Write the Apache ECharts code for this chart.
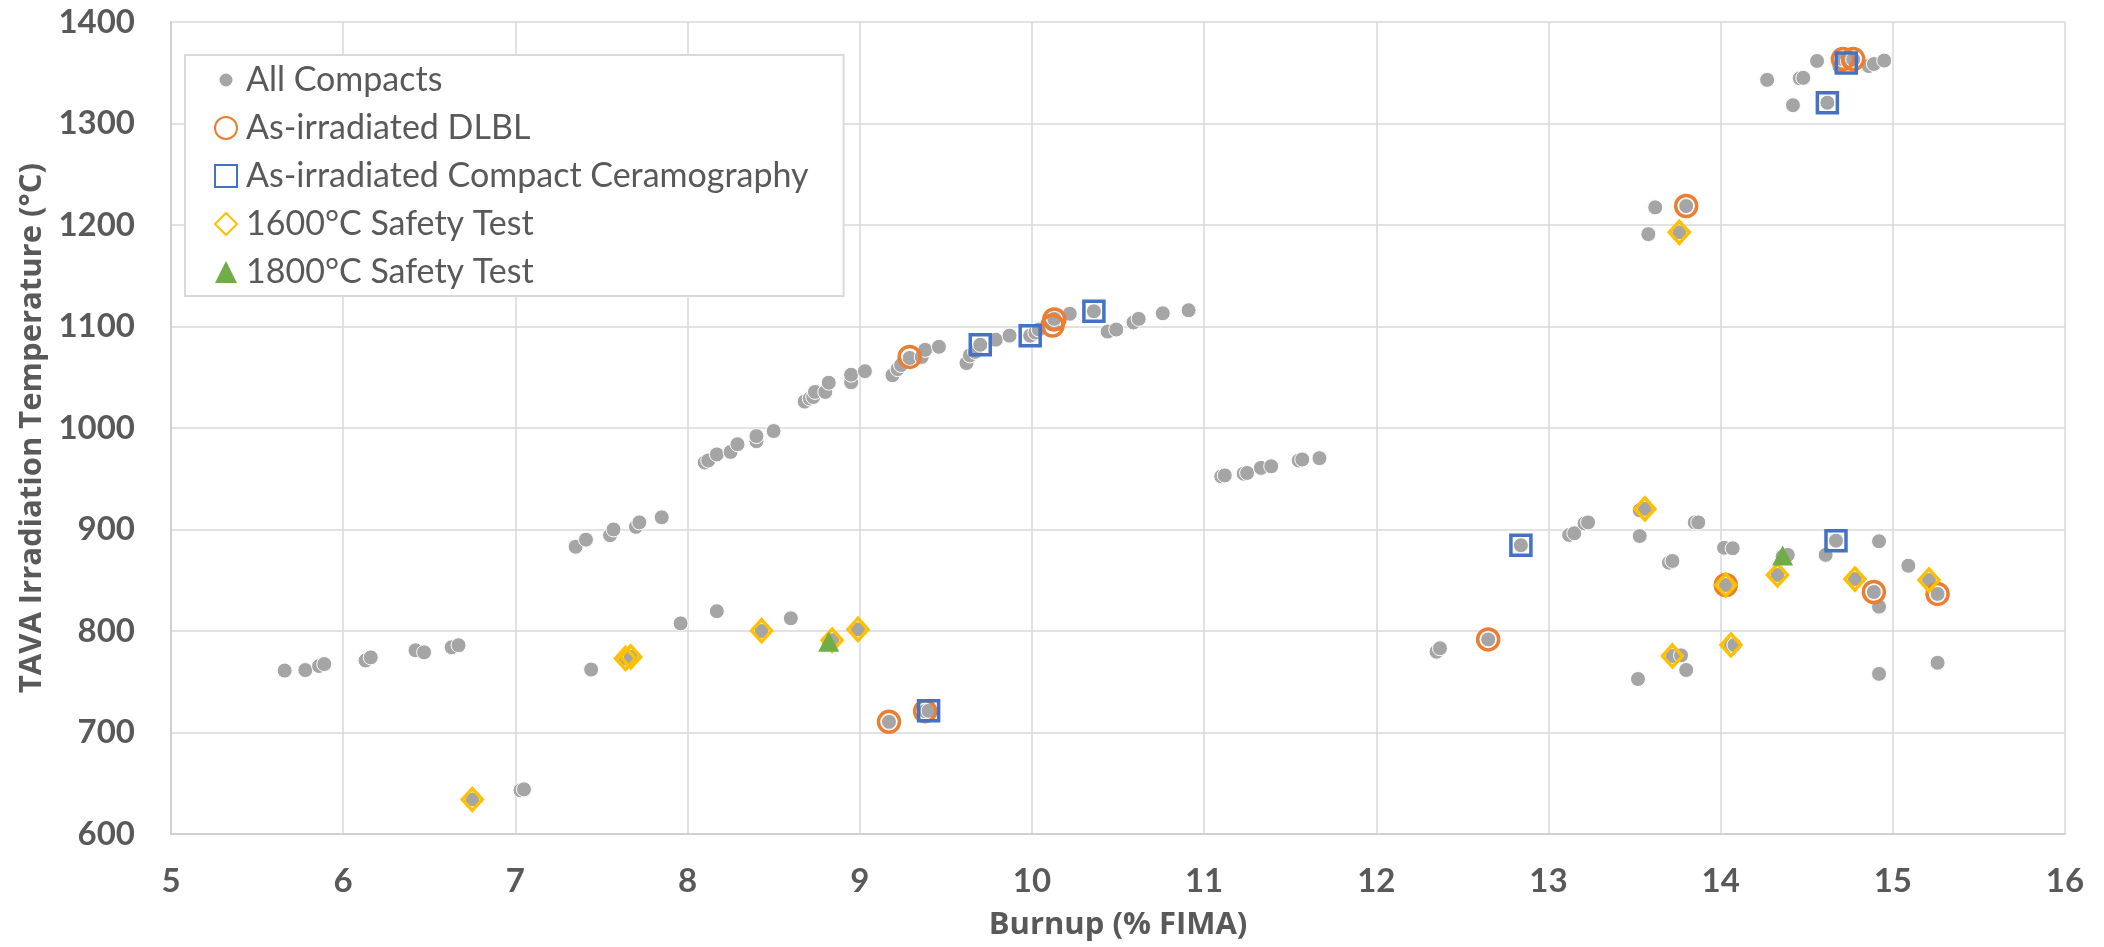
<!DOCTYPE html>
<html>
<head>
<meta charset="utf-8">
<script src="https://cdn.jsdelivr.net/npm/echarts@6/dist/echarts.min.js"></script>
<style>
html,body{margin:0;padding:0;background:#fff;}
#chart{width:2104px;height:947px;}
</style>
</head>
<body>
<div id="chart"></div>
<script>
// ---- data (Burnup %FIMA, TAVA temperature °C) ----
const xTicks = [5,6,7,8,9,10,11,12,13,14,15,16];
const yTicks = [600,700,800,900,1000,1100,1200,1300,1400];

const allCompacts = [
  [5.66,761],[5.78,761.5],[5.86,765.5],[5.89,767.4],[6.13,771],[6.16,774],[6.42,781],[6.47,779],
  [6.63,784],[6.67,786],[7.44,762],[7.03,643],[7.05,644],[6.75,634],[7.64,773],[7.67,774.5],
  [7.96,807.5],[8.17,819.5],[8.43,800],[8.60,812.5],[8.82,789.5],[8.84,791],[8.99,801.6],
  [9.17,710.5],[9.38,721],[9.40,721.4],
  [7.35,883],[7.41,890],[7.55,894.4],[7.57,900],[7.70,902.6],[7.72,907],[7.85,912],
  [8.10,966],[8.12,968],[8.17,974],[8.25,976.4],[8.29,984],[8.40,987],[8.40,992],[8.50,997],
  [8.68,1026],[8.71,1029],[8.73,1030.5],[8.74,1035.5],[8.80,1035.5],[8.82,1044.6],
  [8.95,1045],[8.95,1052.5],[9.03,1056],[9.19,1052],[9.22,1058],[9.24,1062],[9.29,1069],
  [9.36,1070],[9.38,1077],[9.46,1080],[9.62,1064],[9.64,1071.5],[9.67,1075],[9.70,1082],
  [9.79,1087],[9.87,1091],[9.99,1091],[10.02,1094],[10.04,1097],[10.12,1102],[10.13,1107.5],
  [10.22,1112.5],[10.36,1115],[10.44,1095],[10.49,1097],[10.59,1104],[10.62,1107.5],
  [10.76,1113],[10.91,1116],
  [11.10,952.3],[11.12,953.3],[11.23,955],[11.25,955.7],[11.33,960.7],[11.39,962.3],
  [11.55,968],[11.57,969],[11.67,970.3],
  [12.35,779.6],[12.37,783],[12.65,791.7],[12.84,884.5],[13.12,894.6],[13.15,896.3],
  [13.21,906],[13.23,907],[13.53,919],[13.56,920.3],[13.53,893.6],[13.85,907],[13.87,907],
  [13.70,867.3],[13.72,869],[14.02,882],[14.07,881.5],[14.03,845.3],[14.33,855.2],
  [14.36,873.3],[14.39,875],[14.61,875],[14.67,889],[14.92,888.4],[14.78,851.2],
  [14.89,838.4],[14.92,824],[15.09,864.3],[15.21,850.2],[15.26,836.5],
  [14.06,786.2],[14.08,786.2],[13.72,775.4],[13.77,776],[13.80,761.6],[13.52,752.7],
  [14.92,757.8],[15.26,768.7],
  [13.58,1191],[13.76,1192.8],[13.62,1217.4],[13.80,1218.7],
  [14.27,1343],[14.46,1344.5],[14.48,1345],[14.42,1318],[14.62,1320.5],[14.56,1361.6],
  [14.69,1356],[14.71,1363],[14.74,1361],[14.77,1363],[14.86,1356.6],[14.89,1358.6],[14.95,1362]
];
const dlbl = [
  [9.29,1070],[10.12,1101],[10.13,1107],[14.71,1363.5],[14.77,1363.5],[13.80,1218.7],
  [9.17,710.5],[9.38,721],[12.65,791.7],[14.03,845.3],[14.89,838.4],[15.26,836.5]
];
const ceramography = [
  [9.70,1082],[9.99,1091],[10.36,1115],[14.73,1359.5],[14.62,1320.5],[9.40,721.4],[12.84,884.5],[14.67,889]
];
const safety1600 = [
  [6.75,634],[7.64,773],[7.67,774.5],[8.43,800.3],[8.84,791],[8.99,801.6],[13.76,1192.8],
  [13.56,920.3],[14.03,845.3],[14.33,855.2],[14.78,851.2],[15.21,850.2],[14.06,786.2],[13.72,775.4]
];
const safety1800 = [
  [8.82,789.5],[14.36,874.5]
];

const seriesNames = ['All Compacts','As-irradiated DLBL','As-irradiated Compact Ceramography','1600°C Safety Test','1800°C Safety Test'];

const GRAY = '#595959';
const tickFont = "Lato, 'Liberation Sans', sans-serif";
const titleFont = "'Open Sans', 'DejaVu Sans', sans-serif";
const dotIcon = 'image://data:image/svg+xml;utf8,' + encodeURIComponent(
  '<svg xmlns="http://www.w3.org/2000/svg" width="22" height="22" viewBox="0 0 22 22"><circle cx="11" cy="11" r="6.5" fill="#a5a5a5"/></svg>');

const chart = echarts.init(document.getElementById('chart'), null, {renderer:'canvas'});
chart.setOption({
  animation: false,
  backgroundColor: '#fff',
  grid: {left: 171, right: 39, top: 22, bottom: 113},
  xAxis: {
    type: 'value', min: xTicks[0], max: xTicks[xTicks.length-1], interval: 1,
    name: 'Burnup (% FIMA)', nameLocation: 'middle', nameGap: 76,
    nameTextStyle: {fontFamily: titleFont, fontWeight: 'bold', fontSize: 31, color: GRAY},
    axisLine: {lineStyle: {color: '#d0d0d0', width: 2}},
    axisTick: {show: false},
    axisLabel: {fontFamily: tickFont, fontWeight: 'bold', fontSize: 33, color: GRAY, margin: 31,
                formatter: v => String(v)},
    splitLine: {show: true, lineStyle: {color: '#d9d9d9', width: 1.5}}
  },
  yAxis: {
    type: 'value', min: yTicks[0], max: yTicks[yTicks.length-1], interval: 100,
    name: 'TAVA Irradiation Temperature (°C)', nameLocation: 'middle', nameGap: 117, nameRotate: 90,
    nameTextStyle: {fontFamily: titleFont, fontWeight: 'bold', fontSize: 31, color: GRAY},
    axisLine: {show: true, lineStyle: {color: '#d0d0d0', width: 2}},
    axisTick: {show: false},
    axisLabel: {fontFamily: tickFont, fontWeight: 'bold', fontSize: 33, color: GRAY, margin: 36,
                formatter: v => String(v)},
    splitLine: {show: true, lineStyle: {color: '#d9d9d9', width: 1.5}}
  },
  legend: {
    orient: 'vertical', left: 185, top: 55,
    padding: [8, 35, 7, 29],
    backgroundColor: '#fff', borderColor: '#d9d9d9', borderWidth: 2,
    itemWidth: 22, itemHeight: 22, itemGap: 14,
    textStyle: {fontFamily: tickFont, fontSize: 34, color: GRAY, lineHeight: 33, padding: [0,0,0,4]},
    data: [
      {name: seriesNames[0], icon: dotIcon},
      {name: seriesNames[1]},
      {name: seriesNames[2]},
      {name: seriesNames[3]},
      {name: seriesNames[4]}
    ]
  },
  series: [
    {name: seriesNames[0], type: 'scatter', data: allCompacts, symbol: 'circle', symbolSize: 15, z: 2,
     itemStyle: {color: '#a5a5a5', borderColor: '#ffffff', borderWidth: 1, opacity: 1}},
    {name: seriesNames[1], type: 'scatter', data: dlbl, symbol: 'circle', symbolSize: 21, z: 3,
     itemStyle: {color: 'rgba(0,0,0,0)', borderColor: '#ed7d31', borderWidth: 3.5, opacity: 1}},
    {name: seriesNames[2], type: 'scatter', data: ceramography, symbol: 'rect', symbolSize: 20, z: 4,
     itemStyle: {color: 'rgba(0,0,0,0)', borderColor: '#4472c4', borderWidth: 3.5, opacity: 1}},
    {name: seriesNames[3], type: 'scatter', data: safety1600, symbol: 'diamond', symbolSize: [20, 22], z: 5,
     itemStyle: {color: 'rgba(0,0,0,0)', borderColor: '#ffc000', borderWidth: 3.5, opacity: 1}},
    {name: seriesNames[4], type: 'scatter', data: safety1800, symbol: 'triangle', symbolSize: [21, 20], z: 6,
     itemStyle: {color: '#70ad47', opacity: 1}}
  ]
});
</script>
</body>
</html>
